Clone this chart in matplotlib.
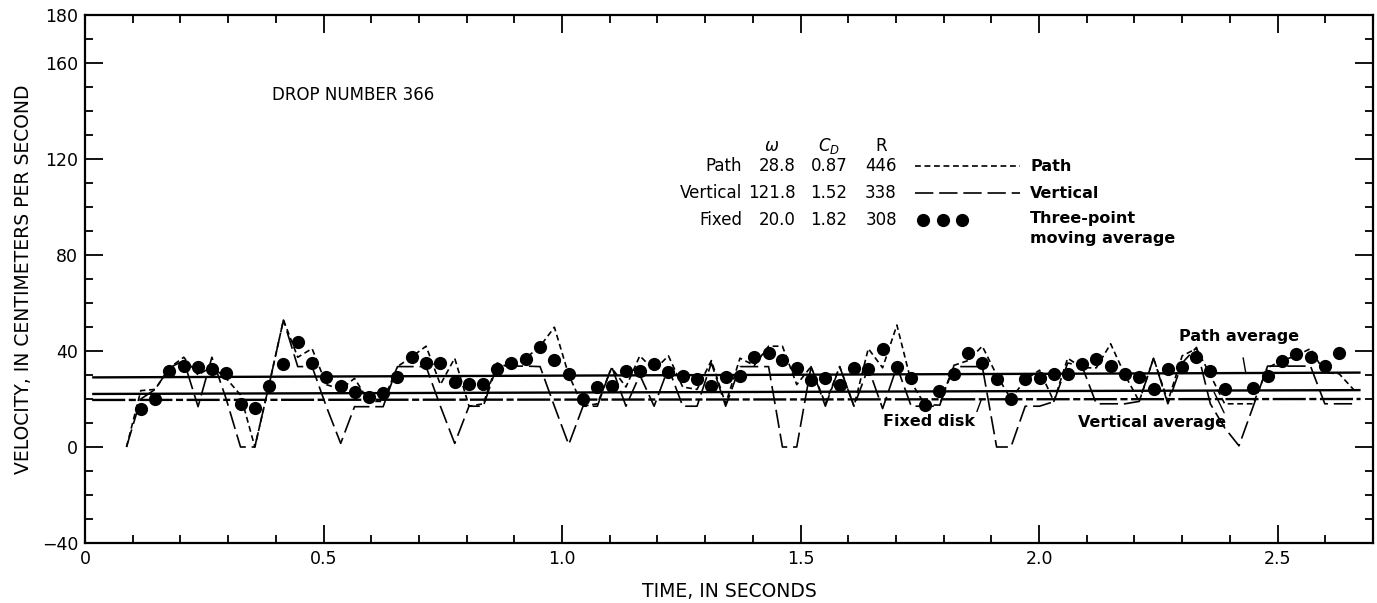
import matplotlib
matplotlib.use("Agg")
import matplotlib.pyplot as plt
from matplotlib.ticker import MultipleLocator, FixedLocator

plt.rcParams['font.family'] = ['DejaVu Sans']

# ---------------- data ----------------
t_line = [0.087, 0.117, 0.147, 0.177, 0.207, 0.237, 0.266, 0.296, 0.326, 0.356,
          0.386, 0.416, 0.446, 0.476, 0.506, 0.536, 0.565, 0.595, 0.625, 0.655,
          0.685, 0.715, 0.745, 0.775, 0.805, 0.835, 0.864, 0.894, 0.924, 0.954,
          0.984, 1.014, 1.044, 1.074, 1.104, 1.134, 1.163, 1.193, 1.223, 1.253,
          1.283, 1.313, 1.343, 1.373, 1.403, 1.433, 1.462, 1.492, 1.522, 1.552,
          1.582, 1.612, 1.642, 1.672, 1.702, 1.732, 1.761, 1.791, 1.821, 1.851,
          1.881, 1.911, 1.941, 1.971, 2.001, 2.031, 2.060, 2.090, 2.120, 2.150,
          2.180, 2.210, 2.240, 2.270, 2.300, 2.330, 2.359, 2.389, 2.419, 2.449,
          2.479, 2.509, 2.539, 2.569, 2.599, 2.629, 2.659]

path_v = [0, 23.5, 24, 33, 37.4, 30, 33.5, 28.6, 21.7, 0,
          26, 52.9, 37.4, 41, 26, 24, 28.6, 19, 19, 33.5,
          37.6, 42, 26, 37, 17, 18, 35, 33, 37, 42,
          49.9, 30, 17, 18, 33, 25, 38, 32, 38, 25,
          24, 36, 18, 37, 34, 42, 42, 26, 33.5, 18,
          33.5, 17, 41, 33, 50.8, 27, 17.5, 17.5, 34, 36,
          42, 30, 20, 28, 32, 19, 37, 33, 33, 43,
          30, 19, 37, 19, 38, 41, 30, 18, 18, 18,
          33, 36, 38, 41, 31, 30.5, 24]

vertical_v = [0, 20, 24, 33, 36, 16.8, 37.4, 20, 0, 0,
              26, 52.9, 33.5, 33.5, 16.8, 1.5, 16.8, 16.8, 16.8, 33.5,
              33.5, 33.5, 17, 1.5, 17, 17, 34, 33.7, 33.7, 33.5,
              17, 1, 17, 17, 33.5, 17, 30, 17, 33, 17,
              17, 35, 17, 33.5, 33.5, 33.5, 0, 0, 33.5, 17,
              33.5, 17, 33, 16, 33.5, 17, 17, 17, 33.5, 33.5,
              33.5, 0, 0, 17, 17, 18.9, 35, 33.7, 18, 18,
              18, 19, 37, 18, 35, 41.5, 18, 8, 0.5, 17,
              33.7, 33.7, 33.7, 33.7, 18, 18, 18]

t_dots = [0.117, 0.147, 0.177, 0.207, 0.237, 0.266, 0.296, 0.326, 0.356,
          0.386, 0.416, 0.446, 0.476, 0.506, 0.536, 0.565, 0.595, 0.625, 0.655,
          0.685, 0.715, 0.745, 0.775, 0.805, 0.835, 0.864, 0.894, 0.924, 0.954,
          0.984, 1.014, 1.044, 1.074, 1.104, 1.134, 1.163, 1.193, 1.223, 1.253,
          1.283, 1.313, 1.343, 1.373, 1.403, 1.433, 1.462, 1.492, 1.522, 1.552,
          1.582, 1.612, 1.642, 1.672, 1.702, 1.732, 1.761, 1.791, 1.821, 1.851,
          1.881, 1.911, 1.941, 1.971, 2.001, 2.031, 2.060, 2.090, 2.120, 2.150,
          2.180, 2.210, 2.240, 2.270, 2.300, 2.330, 2.359, 2.389, 2.449,
          2.479, 2.509, 2.539, 2.569, 2.599, 2.629]
fixed_avg3 = [15.7, 20, 31.8, 33.9, 33.2, 32.4, 30.7, 17.9, 16.1,
              25.6, 34.4, 43.9, 34.9, 29.3, 25.6, 22.8, 21, 22.4, 29.3,
              37.4, 35.1, 34.9, 27, 26.1, 26.2, 32.4, 35.1, 36.5, 41.8,
              36.2, 30.4, 20, 25.1, 25.6, 31.8, 31.8, 34.4, 31.4, 29.6,
              28.3, 25.6, 29.3, 29.6, 37.6, 39.3, 36.2, 32.8, 27.9, 28.9,
              25.8, 33, 32.4, 40.8, 33.5, 28.6, 17.5, 23.5, 30.4, 39,
              35.1, 28.2, 19.9, 28.3, 28.6, 30.3, 30.4, 34.4, 36.5, 33.9,
              30.3, 29.3, 24, 32.4, 33.2, 37.4, 31.8, 24.2, 24.4,
              29.6, 36, 38.6, 37.6, 33.8, 39]

avg_t = [0.015, 2.674]
path_avg = [29.0, 31.0]
vertical_avg = [22.1, 23.7]
fixed_avg = [19.6, 20.0]

table_rows = ["Path", "Vertical", "Fixed"]
omega = ["28.8", "121.8", "20.0"]
cd = ["0.87", "1.52", "1.82"]
reyn = ["446", "338", "308"]

x_major = [0, 0.5, 1.0, 1.5, 2.0, 2.5]
x_labels = ["0", "0.5", "1.0", "1.5", "2.0", "2.5"]
y_major = [-40, 0, 40, 80, 120, 160, 180]
y_labels = ["\u221240", "0", "40", "80", "120", "160", "180"]

# ---------------- figure ----------------
W, H = 1377, 603
fig = plt.figure(figsize=(W / 100, H / 100), dpi=100)
ax = fig.add_axes([85 / W, 1 - 543 / H, (1373 - 85) / W, (543 - 15) / H])

def px(x, y):
    return (x / W, 1 - y / H)

ax.set_xlim(0, 2.7)
ax.set_ylim(-40, 180)

blk = 'black'
ax.plot(avg_t, path_avg, color=blk, lw=1.7, solid_capstyle='butt')
ax.plot(avg_t, vertical_avg, color=blk, lw=1.7, solid_capstyle='butt')
ax.plot(avg_t, fixed_avg, color=blk, lw=1.7, linestyle=(0, (14, 1.5, 3, 1.5)))

ax.plot(t_line, path_v, color=blk, lw=1.2, linestyle=(0, (3.5, 2.2)))
ax.plot(t_line, vertical_v, color=blk, lw=1.2, linestyle=(0, (11, 3.5)))
ax.plot(t_dots, fixed_avg3, linestyle='none', marker='o', markersize=9.5,
        color=blk, markeredgewidth=0)

# ticks
ax.xaxis.set_major_locator(FixedLocator(x_major))
ax.set_xticklabels(x_labels)
ax.xaxis.set_minor_locator(MultipleLocator(0.1))
ax.yaxis.set_major_locator(FixedLocator(y_major))
ax.set_yticklabels(y_labels)
ax.yaxis.set_minor_locator(MultipleLocator(10))
ax.tick_params(which='both', direction='in', top=True, right=True,
               width=1.3, colors=blk, labelsize=12.5, pad=5)
ax.tick_params(which='major', length=13)
ax.tick_params(which='minor', length=6)
for s in ax.spines.values():
    s.set_linewidth(1.6)

ax.set_xlabel("TIME, IN SECONDS", fontsize=13.5, labelpad=10)
ax.set_ylabel("VELOCITY, IN CENTIMETERS PER SECOND", fontsize=13.5, labelpad=6)

# text
fs = 12
fig.text(*px(272, 95), "DROP NUMBER 366", fontsize=fs, ha='left', va='center')

hy = 146
fig.text(*px(772, hy), "\u03c9", fontsize=fs, ha='center', va='center',
         style='italic')
fig.text(*px(829, hy), "$C_D$", fontsize=fs, ha='center', va='center')
fig.text(*px(881, hy), "R", fontsize=fs, ha='center', va='center')
rows_y = [166, 193, 220]
for lab, w, c, r, y in zip(table_rows, omega, cd, reyn, rows_y):
    fig.text(*px(742, y), lab, fontsize=fs, ha='right', va='center')
    fig.text(*px(796, y), w, fontsize=fs, ha='right', va='center')
    fig.text(*px(829, y), c, fontsize=fs, ha='center', va='center')
    fig.text(*px(881, y), r, fontsize=fs, ha='center', va='center')

# legend
lx0, lx1, ltx = 915, 1020, 1030
fig.add_artist(plt.Line2D([lx0 / W, lx1 / W], [1 - 166 / H] * 2, color=blk,
                          lw=1.2, linestyle=(0, (3.5, 2.2))))
fig.add_artist(plt.Line2D([lx0 / W, lx1 / W], [1 - 193 / H] * 2, color=blk,
                          lw=1.2, linestyle=(0, (11, 3.5))))
fig.add_artist(plt.Line2D([923 / W, 943 / W, 962 / W], [1 - 220 / H] * 3,
                          linestyle='none', marker='o', markersize=9.5,
                          color=blk, markeredgewidth=0))
lfs = 11.5
fig.text(*px(ltx, 166), "Path", fontsize=lfs, weight='bold', ha='left', va='center')
fig.text(*px(ltx, 193), "Vertical", fontsize=lfs, weight='bold', ha='left', va='center')
fig.text(*px(ltx, 218), "Three-point", fontsize=lfs, weight='bold', ha='left', va='center')
fig.text(*px(ltx, 238), "moving average", fontsize=lfs, weight='bold', ha='left', va='center')

# annotations
ax.annotate("Path average", xy=(2.433, 31.2), xytext=(2.42, 46),
            fontsize=lfs, weight='bold', ha='center', va='center',
            arrowprops=dict(arrowstyle='-', color=blk, lw=1.0,
                            shrinkA=8, shrinkB=0))
ax.annotate("Fixed disk", xy=(1.879, 19.8), xytext=(1.77, 10.5),
            fontsize=lfs, weight='bold', ha='center', va='center',
            arrowprops=dict(arrowstyle='-', color=blk, lw=1.0,
                            shrinkA=0, shrinkB=0,
                            relpos=(1.0, 0.9)))
ax.annotate("Vertical average", xy=(2.367, 22.8), xytext=(2.237, 10),
            fontsize=lfs, weight='bold', ha='center', va='center',
            arrowprops=dict(arrowstyle='-', color=blk, lw=1.0,
                            shrinkA=0, shrinkB=0,
                            relpos=(1.0, 0.9)))

fig.savefig("out.png", dpi=100)
